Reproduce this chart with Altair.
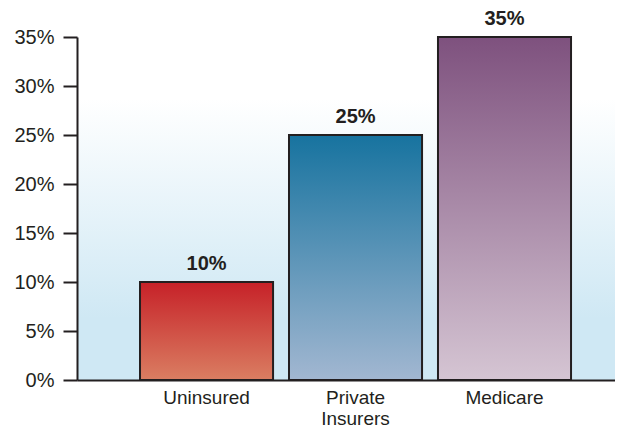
import altair as alt
import pandas as pd

categories = ["Uninsured", "Private Insurers", "Medicare"]
values = [0.10, 0.25, 0.35]
value_labels = ["10%", "25%", "35%"]
top_colors = ["#c62128", "#17739f", "#7e517e"]
bottom_colors = ["#da7e62", "#a2b7d1", "#d5c5d3"]
y_ticks = [0, 0.05, 0.10, 0.15, 0.20, 0.25, 0.30, 0.35]

W, H = 538, 343
FONT = "Liberation Sans"
INK = "#231f20"

df = pd.DataFrame({"category": categories, "value": values, "label": value_labels})

xscale = alt.Scale(domain=categories, paddingInner=0.107, paddingOuter=0.359, align=0.589)
yscale = alt.Scale(domain=[0, 0.35], nice=False)

x_enc = alt.X(
    "category:N",
    sort=categories,
    scale=xscale,
    title=None,
    axis=alt.Axis(
        labelAngle=0,
        ticks=False,
        labelExpr="split(datum.label, ' ')",
        labelFont=FONT,
        labelFontSize=19,
        labelColor=INK,
        labelPadding=8,
        labelLineHeight=21,
        domainColor=INK,
        domainWidth=2,
        zindex=2,
    ),
)
y_enc = alt.Y(
    "value:Q",
    scale=yscale,
    title=None,
    axis=alt.Axis(
        values=y_ticks,
        format=".0%",
        grid=False,
        tickSize=14,
        tickWidth=2,
        tickColor=INK,
        domainColor=INK,
        domainWidth=2,
        labelFont=FONT,
        labelFontSize=20,
        labelColor=INK,
        labelPadding=9,
        zindex=2,
    ),
)

bg = alt.Chart(pd.DataFrame({"a": [0]})).mark_rect(
    color=alt.LinearGradient(
        gradient="linear",
        x1=0, x2=0, y1=0, y2=1,
        stops=[
            alt.GradientStop(offset=0, color="#ffffff"),
            alt.GradientStop(offset=0.18, color="#ffffff"),
            alt.GradientStop(offset=0.82, color="#cfe8f4"),
            alt.GradientStop(offset=1, color="#cfe8f4"),
        ],
    )
).encode(x=alt.value(0), x2=alt.value(W), y=alt.value(0), y2=alt.value(H))

layers = [bg]
for cat, top, bottom in zip(categories, top_colors, bottom_colors):
    bar = alt.Chart(df).transform_filter(alt.datum.category == cat).mark_bar(
        color=alt.LinearGradient(
            gradient="linear",
            x1=0, x2=0, y1=0, y2=1,
            stops=[
                alt.GradientStop(offset=0, color=top),
                alt.GradientStop(offset=1, color=bottom),
            ],
        ),
        stroke=INK,
        strokeWidth=2,
    ).encode(x=x_enc, y=y_enc)
    layers.append(bar)

text = alt.Chart(df).mark_text(
    font=FONT, fontSize=20, fontWeight="bold", color=INK,
    baseline="alphabetic", dy=-12,
).encode(x=x_enc, y=y_enc, text="label:N")
layers.append(text)

chart = alt.layer(*layers).properties(
    width=W,
    height=H,
    autosize=alt.AutoSizeParams(type="none"),
    padding={"left": 69, "top": 29, "right": 0, "bottom": 50},
).configure_view(stroke=None)

chart.save("out.html", embed_options={"renderer": "svg", "actions": False})
